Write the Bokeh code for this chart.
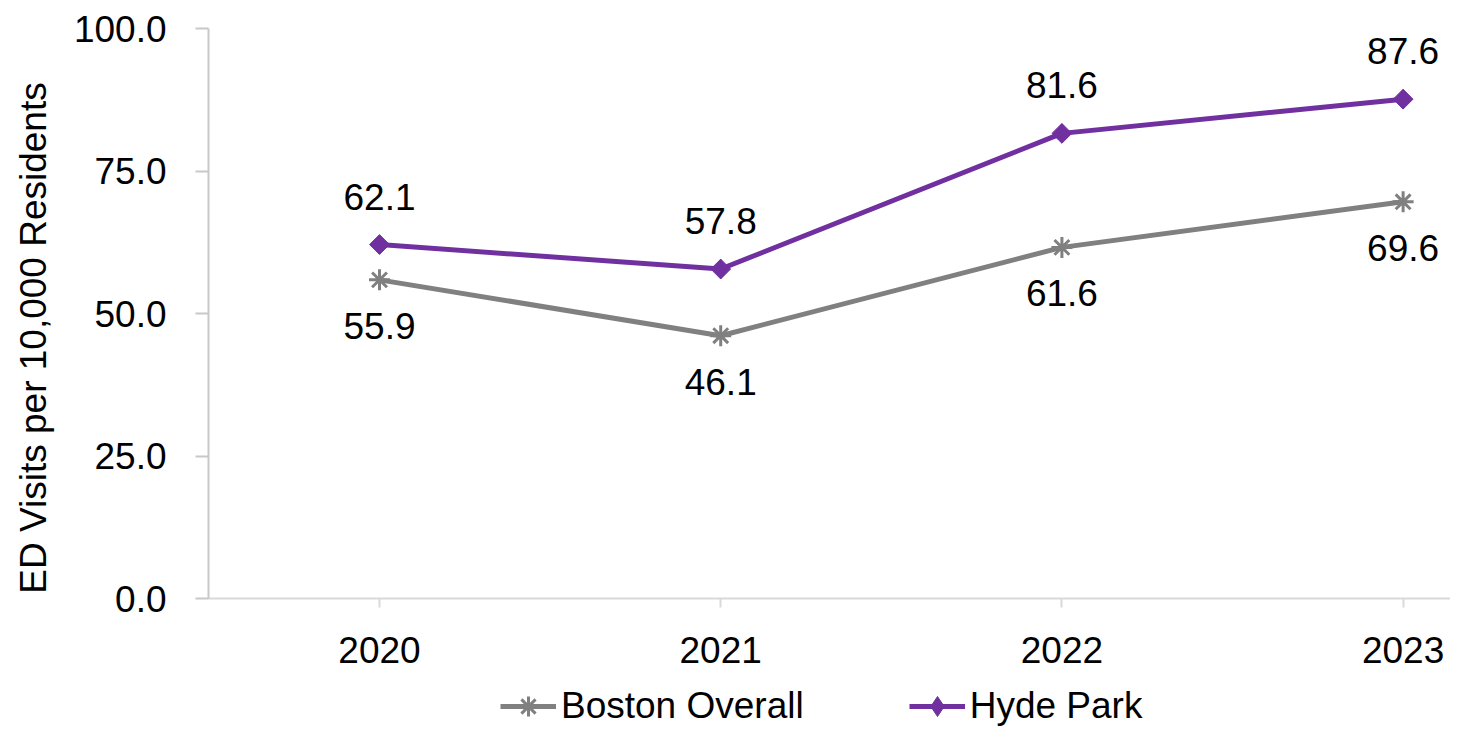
import math
from bokeh.plotting import figure
from bokeh.models import Range1d, FixedTicker, NumeralTickFormatter, Legend, LegendItem, Label
from bokeh.core.properties import value
from bokeh.embed import file_html
from bokeh.resources import INLINE

# ---- data ----
years = ["2020", "2021", "2022", "2023"]
boston = [55.9, 46.1, 61.6, 69.6]
hyde = [62.1, 57.8, 81.6, 87.6]
y_ticks = [0, 25, 50, 75, 100]
series_names = ["Boston Overall", "Hyde Park"]

xs = list(range(1, len(years) + 1))

FONT = "Liberation Sans"
FS = "37px"
GRAY = "#808080"
PURPLE = "#7030A0"

W, H = 1450, 727
# pixel layout of the plotting area (axes drawn at fixed locations inside the frame)
AX_LEFT_PX, AX_TOP_PX, AX_BOTTOM_PX = 208, 28, 598
CAT_STEP_PX = 341.2
Y_MAX = 100

ppu = CAT_STEP_PX
x_axis_start = xs[0] - 0.5012
x_start = x_axis_start - AX_LEFT_PX / ppu
x_end = x_axis_start + (W - AX_LEFT_PX) / ppu
ppy = (AX_BOTTOM_PX - AX_TOP_PX) / Y_MAX
y_start = -(H - AX_BOTTOM_PX) / ppy
y_end = Y_MAX + AX_TOP_PX / ppy

p = figure(width=W, height=H, output_backend="svg", toolbar_location=None,
           x_range=Range1d(x_start, x_end), y_range=Range1d(y_start, y_end),
           min_border=0, min_border_left=0, min_border_right=0,
           min_border_top=0, min_border_bottom=0)
p.outline_line_color = None
p.xgrid.visible = False
p.ygrid.visible = False
p.background_fill_color = "white"
p.border_fill_color = "white"

# x axis
p.xaxis.fixed_location = 0
p.xaxis.bounds = (x_axis_start, x_end)
p.xaxis.ticker = FixedTicker(ticks=xs)
p.xaxis.major_label_overrides = {x: y for x, y in zip(xs, years)}
p.xaxis.axis_line_color = "#d9d9d9"
p.xaxis.axis_line_width = 2
p.xaxis.major_tick_line_color = "#d9d9d9"
p.xaxis.major_tick_line_width = 2
p.xaxis.major_tick_out = 9
p.xaxis.major_tick_in = 0
p.xaxis.minor_tick_line_color = None
p.xaxis.major_label_text_font = FONT
p.xaxis.major_label_text_font_size = FS
p.xaxis.major_label_text_color = "black"
p.xaxis.major_label_standoff = 29

# y axis
p.yaxis.fixed_location = x_axis_start
p.yaxis.bounds = (0, Y_MAX)
p.yaxis.ticker = FixedTicker(ticks=y_ticks)
p.yaxis.formatter = NumeralTickFormatter(format="0.0")
p.yaxis.axis_line_color = "#c8c8c8"
p.yaxis.axis_line_width = 2
p.yaxis.major_tick_line_color = "#c8c8c8"
p.yaxis.major_tick_line_width = 2
p.yaxis.major_tick_out = 13
p.yaxis.major_tick_in = 0
p.yaxis.minor_tick_line_color = None
p.yaxis.major_label_text_font = FONT
p.yaxis.major_label_text_font_size = FS
p.yaxis.major_label_text_color = "black"
p.yaxis.major_label_standoff = 29

# y axis title
lab_x = x_start + 33 / ppu
lab_y = (AX_BOTTOM_PX - 337.5) / ppy
p.add_layout(Label(x=lab_x, y=lab_y, text="ED Visits per 10,000 Residents",
                   angle=math.pi / 2, text_align="center", text_baseline="middle",
                   text_font=FONT, text_font_size=FS, text_color="black"))

# series
b_line = p.line(xs, boston, line_color=GRAY, line_width=5)
b_mark = p.scatter(xs, boston, marker="asterisk", size=21, line_color=GRAY, line_width=3)
h_line = p.line(xs, hyde, line_color=PURPLE, line_width=5)
# diamond (used for the legend symbol), covered on the chart by the square diamond below
h_leg_mark = p.scatter(xs, hyde, marker="diamond", size=19,
                       fill_color=PURPLE, line_color=PURPLE, line_width=1)
h_mark = p.scatter(xs, hyde, marker="square", angle=math.pi / 4, size=14,
                   fill_color=PURPLE, line_color=PURPLE, line_width=1)

# data labels
p.text(xs, boston, text=[f"{v:.1f}" for v in boston], y_offset=46,
       text_align="center", text_baseline="middle", text_font=value(FONT),
       text_font_size=FS, text_color="black")
p.text(xs, hyde, text=[f"{v:.1f}" for v in hyde], y_offset=-48,
       text_align="center", text_baseline="middle", text_font=value(FONT),
       text_font_size=FS, text_color="black")

legend = Legend(items=[LegendItem(label=series_names[0], renderers=[b_line, b_mark]),
                       LegendItem(label=series_names[1], renderers=[h_line, h_leg_mark])],
                orientation="horizontal", location=(500, -4),
                label_text_font=FONT, label_text_font_size=FS, label_text_color="black",
                glyph_width=56, glyph_height=50, label_height=37, label_standoff=5,
                spacing=105, padding=0, margin=0,
                border_line_alpha=0, background_fill_alpha=0)
p.add_layout(legend, "center")

open("out.html", "w").write(file_html(p, INLINE))
